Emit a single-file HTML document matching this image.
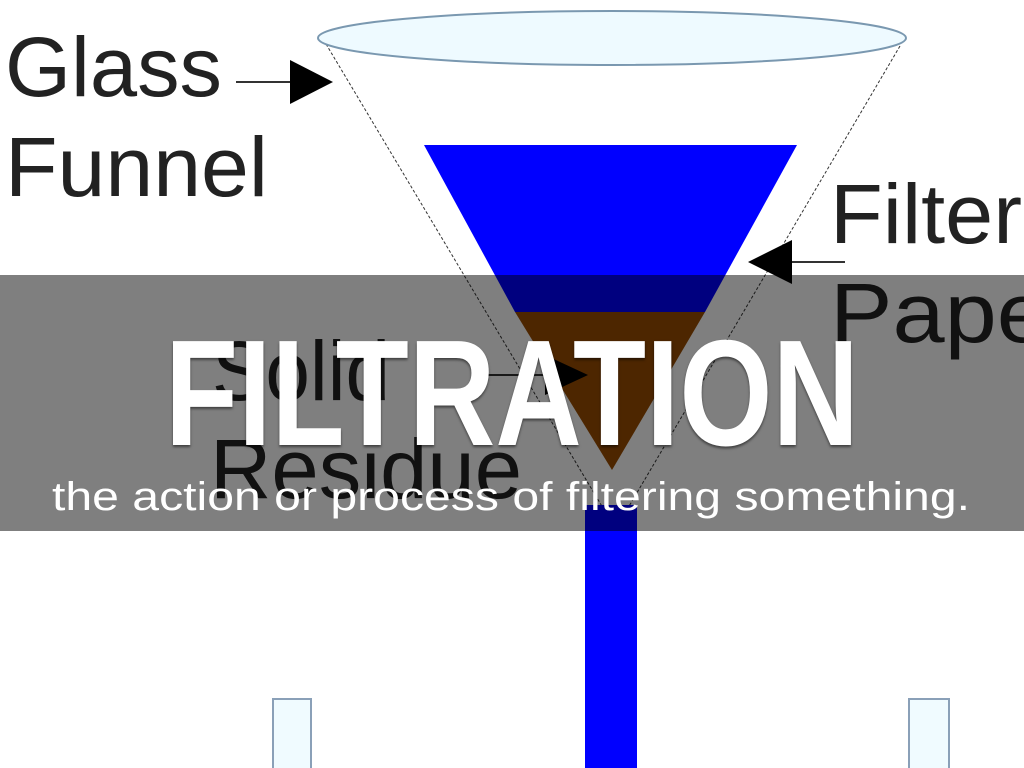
<!DOCTYPE html>
<html><head><meta charset="utf-8"><style>
html,body{margin:0;padding:0;background:#fff;width:1024px;height:768px;overflow:hidden}
svg{display:block}
</style></head><body>
<svg width="1024" height="768" viewBox="0 0 1024 768" xmlns="http://www.w3.org/2000/svg">
<rect width="1024" height="768" fill="#fff"/>
<line x1="326" y1="44" x2="603" y2="508" stroke="#333" stroke-width="1" stroke-dasharray="3,2"/>
<line x1="900" y1="46" x2="628" y2="508" stroke="#333" stroke-width="1" stroke-dasharray="3,2"/>
<ellipse cx="612" cy="38" rx="294" ry="27" fill="#eefaff" stroke="#7a98b0" stroke-width="2"/>
<polygon points="424,145 797,145 705,312 515,312" fill="#0000ff"/>
<polygon points="515,312 705,312 612,470" fill="#9a4c00"/>
<rect x="585" y="505" width="52" height="263" fill="#0000ff"/>
<rect x="273" y="699" width="38" height="80" fill="#f0fbff" stroke="#8aa0b8" stroke-width="2"/>
<rect x="909" y="699" width="40" height="80" fill="#f0fbff" stroke="#8aa0b8" stroke-width="2"/>
<g font-family="'Liberation Sans',sans-serif" font-size="84" fill="#222" lengthAdjust="spacingAndGlyphs">
<text x="5" y="96" textLength="217" lengthAdjust="spacingAndGlyphs">Glass</text>
<text x="5" y="196" textLength="263" lengthAdjust="spacingAndGlyphs">Funnel</text>
<text x="830" y="243" textLength="192" lengthAdjust="spacingAndGlyphs">Filter</text>
<text x="830" y="342" textLength="250" lengthAdjust="spacingAndGlyphs">Paper</text>
<text x="212" y="400" textLength="178" lengthAdjust="spacingAndGlyphs">Solid</text>
<text x="210" y="498" textLength="312" lengthAdjust="spacingAndGlyphs">Residue</text>
</g>
<line x1="236" y1="82" x2="292" y2="82" stroke="#333" stroke-width="2"/>
<polygon points="290,60 333,82 290,104" fill="#000"/>
<line x1="790" y1="262" x2="845" y2="262" stroke="#333" stroke-width="2"/>
<polygon points="792,240 748,262 792,284" fill="#000"/>
<line x1="480" y1="375" x2="545" y2="375" stroke="#333" stroke-width="2"/>
<polygon points="545,355 588,375 545,395" fill="#000"/>
<rect x="0" y="275" width="1024" height="256" fill="rgba(0,0,0,0.5)"/>
<text x="165" y="445" font-family="'Liberation Sans',sans-serif" font-weight="bold" font-size="151" fill="#fff" textLength="694" lengthAdjust="spacingAndGlyphs" style="text-shadow:0 2px 3px rgba(0,0,0,0.5)">FILTRATION</text>
<text x="52" y="510" font-family="'Liberation Sans',sans-serif" font-size="40" fill="#fff" textLength="918" lengthAdjust="spacingAndGlyphs">the action or process of filtering something.</text>
</svg>
</body></html>
